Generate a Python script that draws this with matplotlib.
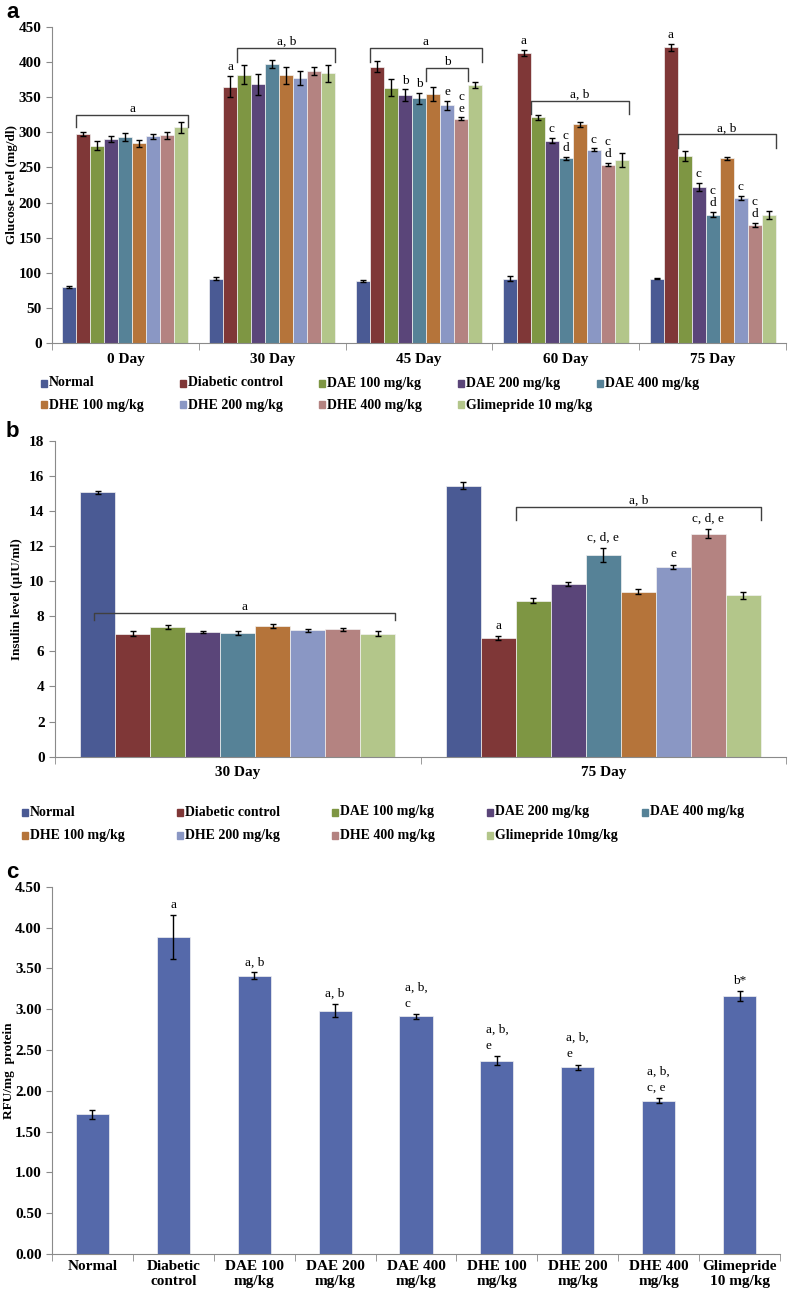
import numpy as np
import matplotlib.pyplot as plt
from matplotlib.patches import Rectangle
from matplotlib.ticker import FixedLocator, FormatStrFormatter

plt.rcParams['font.family'] = ['Liberation Serif', 'DejaVu Serif']

#%% data
groups = ["Normal", "Diabetic control", "DAE 100 mg/kg", "DAE 200 mg/kg", "DAE 400 mg/kg",
          "DHE 100 mg/kg", "DHE 200 mg/kg", "DHE 400 mg/kg", "Glimepride 10 mg/kg"]
groups_b = groups[:-1] + ["Glimepride 10mg/kg"]
colors = ["#4A5A94", "#7F3737", "#7E9643", "#5A4579", "#568297",
          "#B5743A", "#8A97C4", "#B48381", "#B3C68A"]

# panel a - glucose (mg/dl)
days_a = ["0 Day", "30 Day", "45 Day", "60 Day", "75 Day"]
glu_0 = [80, 298, 281, 290, 293, 284, 294, 296, 307]
glu_30 = [92, 365, 382, 368, 397, 381, 377, 387, 384]
glu_45 = [88, 393, 363, 353, 348, 354, 338, 319, 367]
glu_60 = [92, 413, 321, 288, 263, 311, 275, 254, 260]
glu_75 = [92, 421, 266, 222, 183, 263, 206, 168, 182]
glu_0_err = [2, 3, 6, 4, 6, 5, 3, 5, 8]
glu_30_err = [2, 15, 13, 15, 5, 12, 10, 6, 12]
glu_45_err = [1.5, 8, 12, 8, 8, 10, 6, 2, 4]
glu_60_err = [3, 4, 3, 4, 2, 3, 2, 2, 10]
glu_75_err = [1, 5, 7, 6, 4, 2, 3, 3, 6]
# (day, bar, text)
glu_marks = [(1, 1, "a"), (2, 3, "b"), (2, 4, "b"), (2, 6, "e"), (2, 7, "c\ne"),
             (3, 1, "a"), (3, 3, "c"), (3, 4, "c\nd"), (3, 6, "c"), (3, 7, "c\nd"),
             (4, 1, "a"), (4, 3, "c"), (4, 4, "c\nd"), (4, 6, "c"), (4, 7, "c\nd")]

# panel b - insulin (uIU/ml)
days_b = ["30 Day", "75 Day"]
ins_30 = [15.06, 7.0, 7.37, 7.1, 7.06, 7.44, 7.21, 7.25, 7.0]
ins_75 = [15.44, 6.74, 8.89, 9.82, 11.47, 9.4, 10.82, 12.7, 9.19]
ins_30_err = [0.08, 0.15, 0.12, 0.04, 0.1, 0.13, 0.08, 0.07, 0.14]
ins_75_err = [0.2, 0.12, 0.15, 0.12, 0.4, 0.15, 0.12, 0.25, 0.22]
ins_marks = [(1, 1, "a"), (1, 4, "c, d, e"), (1, 6, "e"), (1, 7, "c, d, e")]

# panel c - RFU/mg protein
cats_c = ["Normal", "Diabetic\ncontrol", "DAE 100\nmg/kg", "DAE 200\nmg/kg", "DAE 400\nmg/kg",
          "DHE 100\nmg/kg", "DHE 200\nmg/kg", "DHE 400\nmg/kg", "Glimepride\n10 mg/kg"]
rfu = [1.71, 3.88, 3.41, 2.98, 2.91, 2.37, 2.29, 1.88, 3.16]
rfu_err = [0.06, 0.27, 0.04, 0.08, 0.03, 0.05, 0.03, 0.03, 0.06]
rfu_marks = ["", "a", "a, b", "a, b", "a, b,\nc", "a, b,\ne", "a, b,\ne", "a, b,\nc, e", "b*"]

W, H = 788, 1296
fig = plt.figure(figsize=(W / 100, H / 100), dpi=100)


def axes_px(l, t, r, b):
    return fig.add_axes([l / W, 1 - b / H, (r - l) / W, (b - t) / H])


def style(ax, n):
    for s in ["top", "right"]:
        ax.spines[s].set_visible(False)
    for s in ["left", "bottom"]:
        ax.spines[s].set_color("#8a8a8a")
    ax.set_xlim(-0.5, n - 0.5)
    ax.xaxis.set_minor_locator(FixedLocator(np.arange(n + 1) - 0.5))
    ax.tick_params(axis="x", which="major", length=0, pad=7, labelsize=11)
    ax.tick_params(axis="x", which="minor", length=5, color="#8a8a8a")
    ax.tick_params(axis="y", length=4, color="#8a8a8a", labelsize=11)
    for lab in ax.get_xticklabels() + ax.get_yticklabels():
        lab.set_fontweight("bold")


def bracket(ax, x0, x1, ytop, drop, text):
    ax.plot([x0, x0, x1, x1], [ytop - drop, ytop, ytop, ytop - drop], color="#404040", lw=1)
    ax.text((x0 + x1) / 2, ytop, text, ha="center", va="bottom", fontsize=9.5)


def legend(labels, x0, dx, y0, dy):
    for k, (lab, c) in enumerate(zip(labels, colors)):
        r, col = divmod(k, 5)
        x = x0 + col * dx
        y = y0 + r * dy
        fig.add_artist(Rectangle(((x - 3) / W, 1 - (y + 3.5) / H), 6 / W, 7 / H,
                                 transform=fig.transFigure, color=c))
        fig.text((x + 5) / W, 1 - y / H, lab, ha="left", va="center",
                 fontsize=10, fontweight="bold")


def grouped(ax, data, err, marks, w, off):
    n = data.shape[0]
    xs = np.arange(n)
    for i in range(9):
        x = xs + (i - 4) * w
        ax.bar(x, data[:, i], w, color=colors[i], edgecolor="#f2f2f2", lw=0.5, zorder=2)
        ax.errorbar(x, data[:, i], yerr=err[:, i], fmt="none", ecolor="black",
                    elinewidth=1, capsize=2.5, capthick=1, zorder=3)
    for d, i, t in marks:
        ax.annotate(t, (d + (i - 4) * w, data[d, i] + err[d, i]), xytext=(0, off),
                    textcoords="offset points", ha="center", va="bottom",
                    fontsize=9.5, linespacing=1.0)


#%% panel a
glu = np.array([glu_0, glu_30, glu_45, glu_60, glu_75])
glu_err = np.array([glu_0_err, glu_30_err, glu_45_err, glu_60_err, glu_75_err])
w = 0.0953
ax = axes_px(52, 26.7, 786, 343.3)
grouped(ax, glu, glu_err, glu_marks, w, 2)
ax.set_ylim(0, 450)
ax.set_yticks(np.arange(0, 451, 50))
ax.set_xticks(range(len(days_a)))
ax.set_xticklabels(days_a)
style(ax, len(days_a))
ax.set_ylabel("Glucose level (mg/dl)", fontsize=9.5, fontweight="bold")
ax.yaxis.set_label_coords(-0.047, 0.5)
left = lambda d, i: d + (i - 4) * w - w / 2
right = lambda d, i: d + (i - 4) * w + w / 2
bracket(ax, left(0, 1), right(0, 8), 325, 18, "a")
bracket(ax, left(1, 2), right(1, 8), 420, 20, "a, b")
bracket(ax, left(2, 1), right(2, 8), 420, 20, "a")
bracket(ax, left(2, 5), right(2, 7), 392, 19, "b")
bracket(ax, left(3, 2), right(3, 8), 345, 19, "a, b")
bracket(ax, left(4, 2), right(4, 8), 297, 19, "a, b")
legend(groups, 44, 139, 383, 22)
fig.text(6 / W, 1 - 12 / H, "a", fontsize=16, fontweight="bold", family="Liberation Sans",
         va="center")

#%% panel b
ins = np.array([ins_30, ins_75])
ins_err = np.array([ins_30_err, ins_75_err])
wb = 0.0958
ax = axes_px(55, 440.7, 786, 756.7)
grouped(ax, ins, ins_err, ins_marks, wb, 3)
ax.set_ylim(0, 18)
ax.set_yticks(np.arange(0, 19, 2))
ax.set_xticks(range(len(days_b)))
ax.set_xticklabels(days_b)
style(ax, len(days_b))
ax.set_ylabel("Insulin level (\u00b5IU/ml)", fontsize=9.5, fontweight="bold")
ax.yaxis.set_label_coords(-0.044, 0.5)
bracket(ax, -4.1 * wb, 4.5 * wb, 8.18, 0.41, "a")
bracket(ax, 1 - 2.5 * wb, 1 + 4.5 * wb, 14.24, 0.76, "a, b")
legend(groups_b, 25, 155, 812, 23)
fig.text(6 / W, 1 - 432 / H, "b", fontsize=16, fontweight="bold", family="Liberation Sans",
         va="center")

#%% panel c
ax = axes_px(52, 886.7, 780, 1254)
xc = np.arange(len(cats_c))
ax.bar(xc, rfu, 0.41, color="#5569AA", edgecolor="#f2f2f2", lw=0.5, zorder=2)
ax.errorbar(xc, rfu, yerr=rfu_err, fmt="none", ecolor="black", elinewidth=1,
            capsize=2.5, capthick=1, zorder=3)
for x, v, e, t in zip(xc, rfu, rfu_err, rfu_marks):
    ax.annotate(t, (x, v + e), xytext=(0, 3), textcoords="offset points", ha="center",
                va="bottom", fontsize=9.5, multialignment="left", linespacing=1.5)
ax.set_ylim(0, 4.5)
ax.set_yticks(np.arange(0, 4.51, 0.5))
ax.yaxis.set_major_formatter(FormatStrFormatter("%.2f"))
ax.set_xticks(xc)
ax.set_xticklabels(cats_c, linespacing=1.2)
style(ax, len(cats_c))
ax.tick_params(axis="x", which="major", pad=4)
ax.set_ylabel("RFU/mg  protein", fontsize=9.5, fontweight="bold")
ax.yaxis.set_label_coords(-0.051, 0.5)
fig.text(6 / W, 1 - 872 / H, "c", fontsize=16, fontweight="bold", family="Liberation Sans",
         va="center")

plt.savefig("out.png", dpi=100)
